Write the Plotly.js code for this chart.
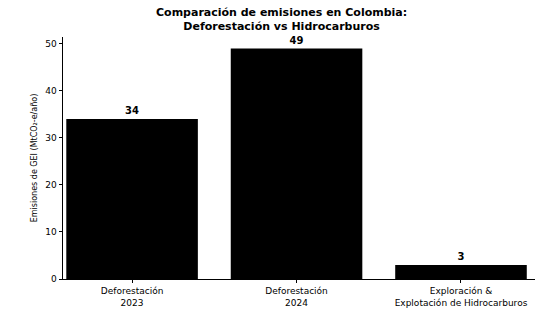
<!DOCTYPE html>
<html>
<head>
<meta charset="utf-8">
<script src="https://cdn.plot.ly/plotly-3.0.1.min.js"></script>
<style>html,body{margin:0;padding:0;background:#fff;}#chart{width:538px;height:334px;}</style>
</head>
<body>
<div id="chart"></div>
<script>
const categories = ["Deforestación<br>2023", "Deforestación<br>2024", "Exploración &<br>Explotación de Hidrocarburos"];
const emissions = [34, 49, 3];
const valueLabels = ["<b>34</b>", "<b>49</b>", "<b>3</b>"];
const yTicks = [0, 10, 20, 30, 40, 50];
const chartTitle = "<b>Comparación de emisiones en Colombia:<br>Deforestación vs Hidrocarburos</b>";

const trace = {
  type: "bar",
  x: categories,
  y: emissions,
  width: 0.8,
  marker: {color: "#000000", line: {width: 0}},
  text: valueLabels,
  textposition: "outside",
  cliponaxis: false,
  textfont: {family: "DejaVu Sans", size: 10, color: "#000"},
  hoverinfo: "none"
};

const layout = {
  width: 538, height: 334,
  margin: {l: 63, r: 3, t: 37, b: 55},
  paper_bgcolor: "#fff", plot_bgcolor: "#fff",
  showlegend: false,
  bargap: 0.2,
  annotations: [{
    text: chartTitle,
    xref: "paper", yref: "paper",
    x: 0.463, y: 1.135, xanchor: "center", yanchor: "top",
    showarrow: false,
    font: {family: "DejaVu Sans", size: 11, color: "#000"}
  }],
  xaxis: {
    range: [-0.42, 2.45],
    showline: true, linecolor: "#000", linewidth: 1,
    ticks: "outside", ticklen: 3, tickcolor: "#000",
    tickfont: {family: "DejaVu Sans", size: 9, color: "#000"},
    showgrid: false, zeroline: false, fixedrange: true
  },
  yaxis: {
    range: [0, 51.45],
    tickvals: yTicks,
    showline: true, linecolor: "#000", linewidth: 1.5,
    ticks: "outside", ticklen: 3, tickcolor: "#000",
    tickfont: {family: "DejaVu Sans", size: 9, color: "#000"},
    showgrid: false, zeroline: false,
    title: {text: "Emisiones de GEI (MtCO₂-e/año)", font: {family: "DejaVu Sans", size: 8, color: "#000"}, standoff: 6}
  }
};

Plotly.newPlot("chart", [trace], layout, {displayModeBar: false, staticPlot: true});
</script>
</body>
</html>
